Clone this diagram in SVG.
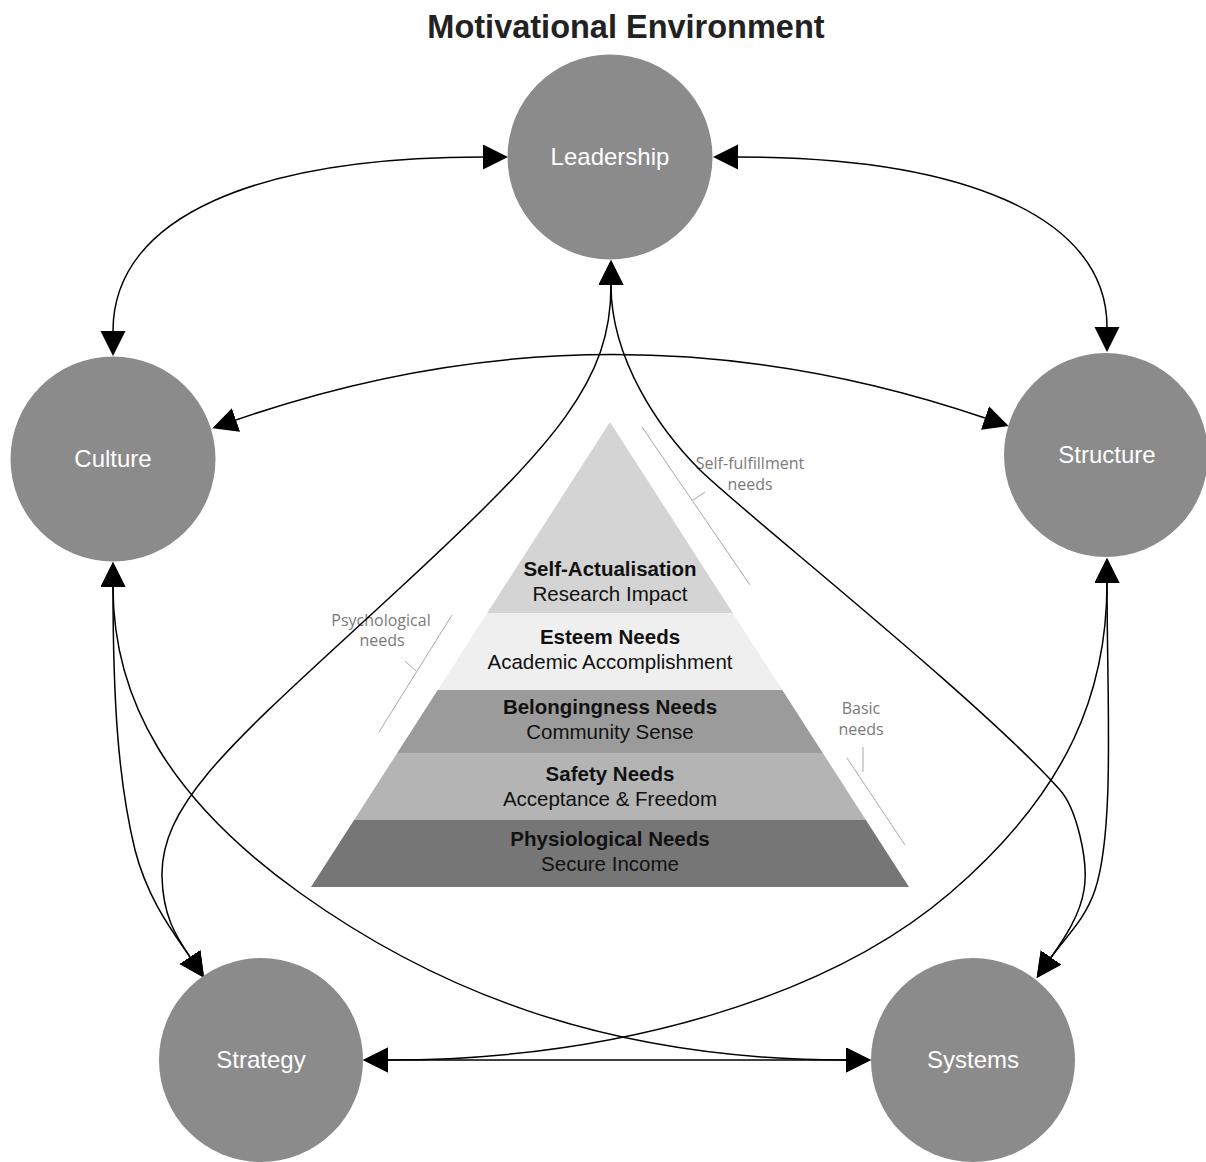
<svg xmlns="http://www.w3.org/2000/svg" width="1206" height="1162" viewBox="0 0 1206 1162">
<style>
.node{fill:#8b8b8b}
.nlabel{font-family:"Liberation Sans",Arial,sans-serif;font-size:24px;fill:#ffffff;text-anchor:middle}
.conn{fill:none;stroke:#000;stroke-width:1.5}
.ptitle{font-family:"Liberation Sans",Arial,sans-serif;font-size:20.5px;font-weight:bold;fill:#111;text-anchor:middle}
.psub{font-family:"Liberation Sans",Arial,sans-serif;font-size:20.5px;fill:#111;text-anchor:middle}
.side{font-family:"Open Sans","Noto Sans",sans-serif;font-size:16px;fill:#7a7a7a;text-anchor:middle}
.brk{stroke:#a8a8a8;stroke-width:1;fill:none}
</style>
<defs>
<marker id="arr" markerUnits="userSpaceOnUse" markerWidth="26" markerHeight="26" refX="0" refY="12.5" orient="auto-start-reverse" viewBox="0 0 26 26">
<path d="M0,0 L25,12.5 L0,25 z" fill="#000"/>
</marker>
</defs>
<rect width="1206" height="1162" fill="#fff"/>
<text x="626" y="38" font-family="Liberation Sans, Arial, sans-serif" font-size="32.5" font-weight="bold" fill="#222" text-anchor="middle">Motivational Environment</text>

<g id="pyramid">
<polygon points="610,422 732.8,613 487.2,613" fill="#d4d4d4"/>
<polygon points="487.2,613 732.8,613 782.3,690 437.7,690" fill="#efefef"/>
<polygon points="437.7,690 782.3,690 822.8,753 397.2,753" fill="#9b9b9b"/>
<polygon points="397.2,753 822.8,753 865.9,820 354.1,820" fill="#b4b4b4"/>
<polygon points="354.1,820 865.9,820 909,887 311,887" fill="#767676"/>
<text class="ptitle" x="610" y="576">Self-Actualisation</text>
<text class="psub" x="610" y="601">Research Impact</text>
<text class="ptitle" x="610" y="644">Esteem Needs</text>
<text class="psub" x="610" y="669">Academic Accomplishment</text>
<text class="ptitle" x="610" y="714">Belongingness Needs</text>
<text class="psub" x="610" y="739">Community Sense</text>
<text class="ptitle" x="610" y="781">Safety Needs</text>
<text class="psub" x="610" y="806">Acceptance &amp; Freedom</text>
<text class="ptitle" x="610" y="846">Physiological Needs</text>
<text class="psub" x="610" y="871">Secure Income</text>
<line class="brk" x1="642" y1="427" x2="750" y2="585"/>
<line class="brk" x1="693" y1="500" x2="705" y2="492"/>
<text class="side" x="750" y="469">Self-fulfillment</text>
<text class="side" x="750" y="490">needs</text>
<line class="brk" x1="452" y1="615" x2="379" y2="732"/>
<line class="brk" x1="416" y1="671" x2="405" y2="661"/>
<text class="side" x="381" y="626">Psychological</text>
<text class="side" x="382" y="646">needs</text>
<line class="brk" x1="847" y1="758" x2="905" y2="845"/>
<line class="brk" x1="863" y1="747" x2="863" y2="772"/>
<text class="side" x="861" y="714">Basic</text>
<text class="side" x="861" y="735">needs</text>
</g>

<g id="connectors">
<path class="conn" marker-start="url(#arr)" marker-end="url(#arr)" d="M483,157 C260,157 113,215 113,331"/>
<path class="conn" marker-start="url(#arr)" marker-end="url(#arr)" d="M738,157 C960,157 1107,215 1107,327"/>
<path class="conn" marker-start="url(#arr)" marker-end="url(#arr)" d="M236,420 Q610,290 985,418"/>
<path class="conn" marker-start="url(#arr)" marker-end="url(#arr)" d="M611,285 C611,380 560,440 400,588 C240,736 160,800 162,877 C163,915 175,935 190,957"/>
<path class="conn" marker-start="url(#arr)" marker-end="url(#arr)" d="M611,285 C611,360 660,430 700,470 C740,510 980,700 1060,790 C1076,808 1089,860 1084,890 C1080,915 1065,937.5 1051,957.5"/>
<path class="conn" marker-start="url(#arr)" marker-end="url(#arr)" d="M113,587 C113,700 118,780 135,850 C148,900 173,932 190,957"/>
<path class="conn" marker-start="url(#arr)" marker-end="url(#arr)" d="M113,587 C113,700 170,800 300,893 C430,986 600,1060 846,1060"/>
<path class="conn" marker-start="url(#arr)" marker-end="url(#arr)" d="M1107,583 C1107,690 1070,790 950,893 C830,996 620,1060 388,1060"/>
<path class="conn" marker-start="url(#arr)" marker-end="url(#arr)" d="M1107,583 C1107,700 1115,830 1095,890 C1085,920 1065,937.5 1051,957.5"/>
<path class="conn" marker-start="url(#arr)" marker-end="url(#arr)" d="M388,1060 L846,1060"/>
</g>

<g id="leadership"><circle class="node" cx="610" cy="157" r="102.5"/><text class="nlabel" x="610" y="165">Leadership</text></g>
<g id="culture"><circle class="node" cx="113" cy="459" r="102.5"/><text class="nlabel" x="113" y="467">Culture</text></g>
<g id="structure"><circle class="node" cx="1106" cy="455" r="102"/><text class="nlabel" x="1107" y="463">Structure</text></g>
<g id="strategy"><circle class="node" cx="261" cy="1060" r="102"/><text class="nlabel" x="261" y="1068">Strategy</text></g>
<g id="systems"><circle class="node" cx="973" cy="1060" r="102"/><text class="nlabel" x="973" y="1068">Systems</text></g>
</svg>
